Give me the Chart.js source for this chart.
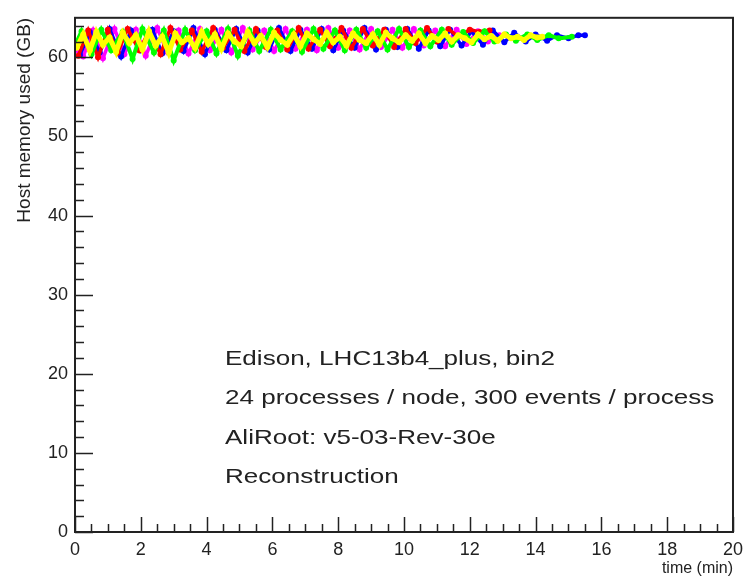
<!DOCTYPE html>
<html>
<head>
<meta charset="utf-8">
<script src="https://cdn.jsdelivr.net/npm/chart.js@4.4.1/dist/chart.umd.min.js"></script>
<style>
  html, body { margin: 0; padding: 0; background: #fff; }
  #wrap { width: 750px; height: 578px; }
  #memChart { filter: blur(0.4px); }
</style>
</head>
<body>
<div id="wrap"><canvas id="memChart"></canvas></div>
<script>
// time (min) and host memory (GB), one pair of arrays per colour
const yellowX = [0.05,0.25,0.45,0.65,0.85,1.05,1.25,1.45,1.65,1.85,2.05,2.25,2.45,2.65,2.85,3.05,3.25,3.45,3.65,3.85,4.05,4.25,4.45,4.65,4.85,5.05,5.25,5.45,5.65,5.85,6.05,6.25,6.45,6.65,6.85,7.05,7.25,7.45,7.65,7.85,8.05,8.25,8.45,8.65,8.85,9.05,9.25,9.45,9.65,9.85,10.05,10.25,10.45,10.65,10.85,11.05,11.25,11.45,11.65,11.85,12.05,12.25,12.45,12.65,12.85,13.05,13.25,13.45,13.65,13.85,14.05,14.2];
const yellowY = [61.2,62.9,60.9,63.2,61.6,62.5,60.7,63.1,61.8,62.8,61.0,63.3,61.5,62.6,60.6,63.0,61.9,62.4,61.2,63.2,61.7,62.9,61.1,63.0,62.0,61.4,63.2,61.8,62.7,61.3,63.1,62.2,61.6,62.9,61.4,63.0,62.3,61.7,63.1,61.9,62.6,61.5,63.0,62.2,61.8,62.9,61.6,63.1,62.4,61.9,62.8,62.1,63.0,61.8,62.7,62.2,63.0,62.0,62.8,62.4,61.9,62.9,62.3,62.7,62.1,62.9,62.4,62.6,62.2,62.8,62.5,62.6];

const greenX = [0.0,0.2,0.5,0.8,1.1,1.45,1.75,2.05,2.4,2.7,3.0,3.35,3.65,4.0,4.3,4.65,4.95,5.3,5.6,5.95,6.25,6.6,6.9,7.25,7.55,7.9,8.2,8.55,8.85,9.2,9.5,9.85,10.15,10.5,10.8,11.15,11.45,11.8,12.1,12.45,12.75,13.1,13.4,13.75,14.05,14.4,14.7,15.1];
const greenY = [61.5,63.3,60.4,63.5,60.9,63.2,59.8,63.6,60.6,63.4,59.6,63.5,60.9,63.3,60.5,63.6,60.2,63.4,60.8,63.5,61.0,63.3,60.7,63.6,61.1,63.4,60.9,63.5,61.2,63.3,61.0,63.6,61.3,63.4,61.4,63.5,61.6,63.2,61.8,63.3,62.0,62.9,62.1,62.9,62.2,62.8,62.4,62.6];

const redX = [0.1,0.4,0.7,1.0,1.3,1.6,1.95,2.25,2.6,2.9,3.2,3.55,3.85,4.2,4.5,4.85,5.15,5.5,5.8,6.15,6.45,6.8,7.1,7.45,7.75,8.1,8.4,8.75,9.05,9.4,9.7,10.05,10.35,10.7,11.0,11.35,11.65,12.0,12.3,12.6];
const redY = [60.2,63.4,60.0,63.5,60.6,63.6,60.9,63.3,60.4,63.7,61.0,63.4,60.7,63.7,61.2,63.5,60.8,63.6,61.3,63.4,61.0,63.7,61.1,63.5,61.4,63.7,61.2,63.6,61.5,63.5,61.3,63.6,61.8,63.7,62.0,63.6,62.6,63.5,63.2,63.4];

const blueX = [0.15,0.45,0.75,1.05,1.4,1.7,2.0,2.35,2.65,3.0,3.3,3.6,3.95,4.25,4.6,4.9,5.25,5.55,5.9,6.2,6.55,6.85,7.2,7.5,7.85,8.15,8.5,8.8,9.15,9.45,9.8,10.1,10.45,10.75,11.1,11.4,11.75,12.05,12.4,12.7,13.05,13.35,13.7,14.0,14.35,14.65,15.0,15.3,15.5];
const blueY = [60.3,63.2,60.6,63.6,60.1,63.4,60.9,63.5,60.5,63.3,60.8,63.7,60.4,63.5,60.9,63.6,60.6,63.4,61.0,63.7,60.8,63.5,61.1,63.6,60.9,63.4,61.2,63.7,61.0,63.5,61.3,63.6,61.1,63.4,61.4,63.5,61.5,63.3,61.6,63.4,61.9,63.1,62.0,62.9,62.1,62.8,62.4,62.8,62.8];

const magentaX = [0.0,0.25,0.55,0.85,1.2,1.5,1.85,2.15,2.5,2.8,3.15,3.45,3.8,4.1,4.45,4.75,5.1,5.4,5.75,6.05,6.4,6.7,7.05,7.35,7.7,8.0,8.35,8.65,9.0,9.3,9.65,9.95,10.3,10.6,10.95,11.25,11.6,11.9,12.25,12.55,12.9];
const magentaY = [61.0,60.1,63.4,59.9,63.6,60.4,63.5,60.2,63.7,60.7,63.4,60.5,63.6,60.9,63.5,60.6,63.7,61.0,63.4,60.8,63.6,61.1,63.5,60.9,63.7,61.2,63.4,61.0,63.6,61.3,63.5,61.2,63.6,61.5,63.4,61.4,63.5,61.7,63.3,62.0,62.8];

const infoLines = [
    'Edison, LHC13b4_plus, bin2',
    '24 processes / node, 300 events / process',
    'AliRoot: v5-03-Rev-30e',
    'Reconstruction'
];

function pts(xs, ys) {
    return xs.map((x, i) => ({ x: x, y: ys[i] }));
}

function series(xs, ys, color, width) {
    return {
        data: pts(xs, ys),
        showLine: true,
        borderColor: color,
        backgroundColor: color,
        borderWidth: width,
        pointRadius: 3,
        pointBorderWidth: 0,
        tension: 0
    };
}

// ROOT style frame with ticks pointing inward, plus the text box
const rootFrame = {
    id: 'rootFrame',
    afterDraw(chart) {
        const ctx = chart.ctx;
        const a = chart.chartArea;
        const xs = chart.scales.x;
        const ys = chart.scales.y;
        ctx.save();
        ctx.strokeStyle = '#222';
        ctx.lineWidth = 2;
        ctx.strokeRect(a.left, a.top, a.right - a.left, a.bottom - a.top);

        ctx.lineWidth = 1.5;
        ctx.beginPath();
        for (let v = 0; v <= 20.001; v += 0.5) {
            const px = Math.round(xs.getPixelForValue(v)) + 0.5;
            const len = (Math.abs(v / 2 - Math.round(v / 2)) < 1e-6) ? 15 : 8;
            ctx.moveTo(px, a.bottom);
            ctx.lineTo(px, a.bottom - len);
        }
        for (let v = 0; v <= 64.001; v += 2) {
            const py = Math.round(ys.getPixelForValue(v)) + 0.5;
            const len = (v % 10 === 0) ? 18 : 9;
            ctx.moveTo(a.left, py);
            ctx.lineTo(a.left + len, py);
        }
        ctx.stroke();

        ctx.fillStyle = '#222';
        ctx.font = '21px "Liberation Sans", Arial, sans-serif';
        ctx.textBaseline = 'middle';
        infoLines.forEach((t, i) => {
            ctx.save();
            ctx.translate(225, 359 + i * 39.5);
            ctx.scale(1.24, 1);
            ctx.fillText(t, 0, 0);
            ctx.restore();
        });
        ctx.restore();
    }
};

const ctx = document.getElementById('memChart').getContext('2d');
new Chart(ctx, {
    type: 'scatter',
    data: {
        // first dataset is painted last, so yellow ends up on top
        datasets: [
            series(yellowX, yellowY, '#ffff00', 5),
            series(greenX, greenY, '#00ff00', 4),
            series(redX, redY, '#ff0000', 3.5),
            series(blueX, blueY, '#0000ff', 3.5),
            series(magentaX, magentaY, '#ff00ff', 3.5)
        ]
    },
    options: {
        responsive: true,
        maintainAspectRatio: false,
        animation: false,
        layout: { padding: { top: 13, right: 10, left: 0, bottom: 0 } },
        plugins: { legend: { display: false }, tooltip: { enabled: false } },
        scales: {
            x: {
                type: 'linear',
                min: 0,
                max: 20,
                grid: { display: false, drawTicks: false },
                border: { display: false },
                ticks: {
                    stepSize: 2,
                    padding: 7,
                    color: '#222',
                    font: { size: 18, family: '"Liberation Sans", Arial, sans-serif' },
                    maxRotation: 0
                },
                title: {
                    display: true,
                    text: 'time (min)',
                    align: 'end',
                    color: '#222',
                    padding: { top: 1, bottom: 0 },
                    font: { size: 16, family: '"Liberation Sans", Arial, sans-serif' }
                },
                afterFit(s) { s.height = 46; }
            },
            y: {
                min: 0,
                max: 65,
                grid: { display: false, drawTicks: false },
                border: { display: false },
                ticks: {
                    stepSize: 10,
                    padding: 7,
                    color: '#222',
                    font: { size: 18, family: '"Liberation Sans", Arial, sans-serif' }
                },
                afterBuildTicks(s) { s.ticks = s.ticks.filter(t => t.value % 10 === 0); },
                title: {
                    display: true,
                    text: 'Host memory used (GB)',
                    align: 'end',
                    color: '#222',
                    padding: { top: 13, bottom: 0 },
                    font: { size: 19, family: '"Liberation Sans", Arial, sans-serif' }
                },
                afterFit(s) { s.width = 75; }
            }
        }
    },
    plugins: [rootFrame]
});
</script>
</body>
</html>
